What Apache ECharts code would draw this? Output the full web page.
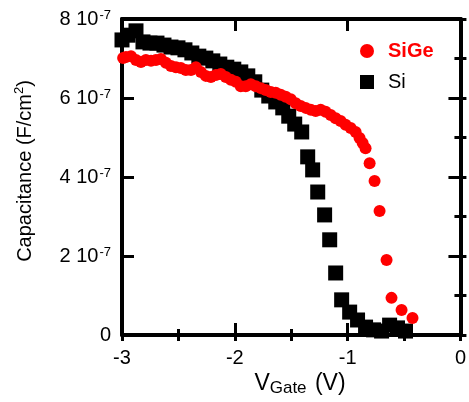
<!DOCTYPE html>
<html>
<head>
<meta charset="utf-8">
<script src="https://cdn.jsdelivr.net/npm/echarts@6/dist/echarts.min.js"></script>
<style>
html,body{margin:0;padding:0;background:#fff;}
#chart{width:469px;height:402px;}
</style>
</head>
<body>
<div id="chart"></div>
<script>
// Gate voltage (V) and capacitance (in units of 1e-7 F/cm^2)
const siGeV = [-2.99,-2.965,-2.92,-2.876,-2.832,-2.788,-2.743,-2.699,-2.655,-2.611,-2.566,-2.522,-2.478,-2.434,-2.389,-2.345,-2.301,-2.257,-2.212,-2.168,-2.124,-2.08,-2.035,-1.991,-1.947,-1.903,-1.858,-1.814,-1.77,-1.726,-1.681,-1.637,-1.593,-1.549,-1.504,-1.46,-1.416,-1.372,-1.327,-1.283,-1.239,-1.195,-1.15,-1.106,-1.062,-1.018,-0.973,-0.929,-0.894,-0.867,-0.841,-0.805,-0.761,-0.717,-0.655,-0.611,-0.522,-0.425];
const siGeC = [7.01,7.04,7.06,6.96,6.91,6.96,6.94,6.96,6.99,6.89,6.81,6.78,6.76,6.71,6.71,6.78,6.66,6.56,6.53,6.58,6.61,6.53,6.46,6.41,6.30,6.30,6.35,6.30,6.25,6.20,6.15,6.13,6.08,6.03,5.97,5.87,5.80,5.75,5.70,5.67,5.70,5.65,5.57,5.49,5.42,5.32,5.24,5.14,4.99,4.86,4.73,4.35,3.90,3.14,1.90,0.94,0.63,0.43];
const siV = [-3.0,-2.947,-2.876,-2.814,-2.752,-2.69,-2.628,-2.566,-2.504,-2.442,-2.381,-2.319,-2.257,-2.195,-2.133,-2.071,-2.009,-1.947,-1.885,-1.823,-1.761,-1.699,-1.637,-1.575,-1.522,-1.469,-1.407,-1.354,-1.31,-1.265,-1.204,-1.159,-1.106,-1.053,-0.982,-0.912,-0.841,-0.77,-0.699,-0.628,-0.558,-0.487];
const siC = [7.47,7.59,7.70,7.42,7.39,7.39,7.34,7.29,7.27,7.22,7.14,7.06,7.01,6.94,6.86,6.78,6.73,6.66,6.56,6.41,6.20,6.05,5.90,5.75,5.54,5.34,5.14,4.51,4.18,3.62,3.04,2.41,1.57,0.89,0.58,0.38,0.20,0.13,0.10,0.25,0.18,0.10];
const xTicks = [-3,-2,-1,0];
const yTickLabels = ['0','2 10{s|-7}','4 10{s|-7}','6 10{s|-7}','8 10{s|-7}'];
const seriesNames = ['SiGe','Si'];

const FONT = 'Liberation Sans, Arial, sans-serif';
const chart = echarts.init(document.getElementById('chart'), null, {renderer:'canvas'});

const frameLine = {show:true, onZero:false, lineStyle:{color:'#000', width:4}};
const majorTick = {show:true, inside:true, length:12, lineStyle:{color:'#000', width:3}};
const minorTickAx = {show:true, inside:true, length:6, lineStyle:{color:'#000', width:3}};
const noLine = {show:false};

function xAx(pos, major, labels){
  return {type:'value', min:-3, max:0, interval: major?1:0.5, position:pos,
    axisLine: major? frameLine : noLine, axisTick: major? majorTick : minorTickAx,
    splitLine:{show:false},
    axisLabel: labels ? {margin:13, color:'#000', fontFamily:FONT, fontSize:20,
      formatter:v=>{const i=xTicks.indexOf(Math.round(v)); return i>=0? String(xTicks[i]):'';}} : {show:false}};
}
function yAx(pos, major, labels){
  return {type:'value', min:0, max:8, interval: major?2:1, position:pos,
    axisLine: major? frameLine : noLine, axisTick: major? majorTick : minorTickAx,
    splitLine:{show:false},
    axisLabel: labels ? {margin:11, color:'#000', fontFamily:FONT, fontSize:20,
      formatter:v=>yTickLabels[Math.round(v/2)],
      rich:{s:{fontSize:13, fontFamily:FONT, color:'#000', verticalAlign:'top', lineHeight:12, padding:[0,0,8,1]}}} : {show:false}};
}

chart.setOption({
  animation:false,
  backgroundColor:'#fff',
  grid:{left:122, right:8, top:19, bottom:67, containLabel:false},
  legend:{
    data:[
      {name:seriesNames[0], icon:'circle', textStyle:{color:'#ff0000', fontWeight:'bold'}},
      {name:seriesNames[1], icon:'rect', textStyle:{color:'#000'}}
    ],
    orient:'vertical', left:355, top:36, itemWidth:14, itemHeight:14, itemGap:11,
    textStyle:{fontFamily:FONT, fontSize:20, padding:[0,0,0,9]}
  },
  xAxis:[xAx('bottom',false,false), xAx('top',false,false), xAx('bottom',true,true), xAx('top',true,false)],
  yAxis:[yAx('left',true,true), yAx('right',true,false), yAx('left',false,false), yAx('right',false,false)],
  series:[
    {name:seriesNames[1], type:'scatter', symbol:'rect', symbolSize:15, xAxisIndex:2, yAxisIndex:0,
      itemStyle:{color:'#000', opacity:1}, data:siV.map((v,i)=>[v,siC[i]]), z:2},
    {name:seriesNames[0], type:'scatter', symbol:'circle', symbolSize:12, xAxisIndex:2, yAxisIndex:0,
      itemStyle:{color:'#ff0000', opacity:1}, data:siGeV.map((v,i)=>[v,siGeC[i]]), z:3}
  ],
  graphic:[
    {type:'text', x:300, y:384, silent:true,
      style:{text:'{a|V}{b|Gate}{a| (V)}', textAlign:'center', textVerticalAlign:'middle',
        rich:{a:{fontSize:23, fontFamily:FONT, fill:'#000', lineHeight:26},
              b:{fontSize:17, fontFamily:FONT, fill:'#000', verticalAlign:'bottom', lineHeight:15, padding:[0,2,0,0]}}}},
    {type:'text', x:25, y:171, rotation:Math.PI/2, silent:true,
      style:{text:'{a|Capacitance (F/cm}{s|2}{a|)}', textAlign:'center', textVerticalAlign:'middle',
        rich:{a:{fontSize:20, fontFamily:FONT, fill:'#000', lineHeight:24},
              s:{fontSize:13, fontFamily:FONT, fill:'#000', verticalAlign:'top', lineHeight:12}}}}
  ]
});
</script>
</body>
</html>
